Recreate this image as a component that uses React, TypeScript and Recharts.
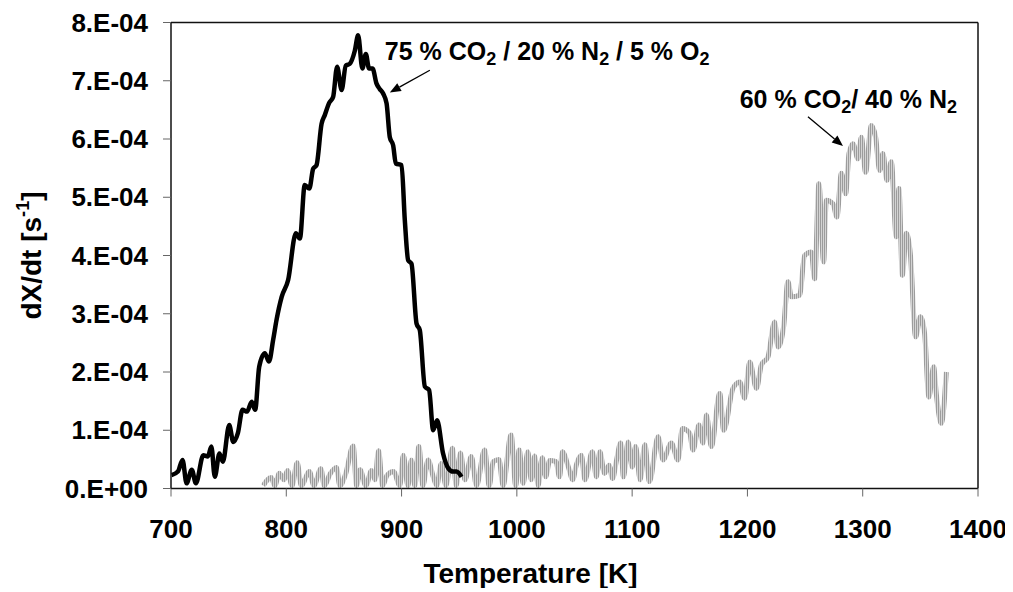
import React from 'react';
import { LineChart, Line, XAxis, YAxis, ReferenceLine, ReferenceDot, Label } from 'recharts';

// Temperature ticks [K]
const xTicks = [700, 800, 900, 1000, 1100, 1200, 1300, 1400];
// dX/dt ticks in units of 1e-4 s^-1
const yTicks = [0, 1, 2, 3, 4, 5, 6, 7, 8];

// 75 % CO2 / 20 % N2 / 5 % O2  (rate in 1e-4 s^-1)
const o2T = [700.5, 706, 710, 713.5, 718, 721.6, 728, 732, 735, 738, 742, 745, 750.5, 754, 758, 762, 766, 770, 773, 776.5, 781.4, 785, 788.6, 791.5, 796, 801.6, 808.3, 811.8, 816, 820, 823.3, 826.2, 830.6, 833.4, 837.2, 840.6, 844.1, 848, 851.6, 855, 859.5, 862.3, 866, 869, 871.8, 874.8, 878.3, 881, 884, 887, 889.8, 892.7, 895, 900, 902.8, 905.7, 908.6, 913, 915.8, 920.2, 923.9, 927.4, 930.8, 936, 940.4, 944.7, 947.6, 952];
const o2Rate = [0.23, 0.29, 0.49, 0.09, 0.32, 0.09, 0.57, 0.55, 0.72, 0.2, 0.6, 0.46, 1.09, 0.8, 0.95, 1.35, 1.32, 1.49, 1.35, 2.09, 2.32, 2.18, 2.55, 2.89, 3.29, 3.58, 4.38, 4.29, 5.21, 5.15, 5.49, 5.55, 6.26, 6.41, 6.62, 6.72, 7.24, 6.84, 7.26, 7.29, 7.52, 7.78, 7.21, 7.46, 7.21, 7.21, 6.95, 6.86, 6.78, 6.61, 6.03, 5.89, 5.58, 5.55, 4.61, 3.92, 3.86, 2.83, 2.72, 1.75, 1.69, 1.0, 1.17, 0.6, 0.35, 0.29, 0.29, 0.2];

// 60 % CO2 / 40 % N2  (rate in 1e-4 s^-1)
const n2T = [780, 787, 790, 794, 798, 801, 805, 809.5, 813, 820, 824, 830, 833, 838, 843.5, 846.5, 851.5, 858, 861, 864, 869, 874, 877, 880, 883.5, 887.5, 893, 898.5, 901.5, 905.5, 908.5, 911.5, 915, 918.5, 923, 927.5, 930.5, 934.5, 938.5, 944, 947.5, 951, 955, 960.5, 965, 972, 976, 979.5, 984.5, 988, 995, 999, 1002, 1005.5, 1009.5, 1012.5, 1015.5, 1018.5, 1022, 1025, 1028.5, 1034, 1037, 1039.5, 1045, 1048.5, 1051.5, 1056, 1059, 1065.5, 1069, 1072, 1076, 1080, 1083, 1086.5, 1090, 1092.5, 1096.5, 1100, 1103, 1107, 1111, 1115, 1122.5, 1126.8, 1134, 1139.8, 1143.6, 1149.9, 1152.8, 1158, 1161.5, 1164.4, 1168.7, 1176, 1179.4, 1187.5, 1193.3, 1197.6, 1202, 1207.8, 1212.1, 1217.8, 1223.6, 1226.5, 1231.4, 1235.2, 1238.1, 1245.3, 1249.6, 1255.4, 1258.3, 1262, 1266.1, 1268.4, 1274.2, 1277.6, 1281.5, 1285.2, 1288.1, 1291.5, 1295.9, 1298.8, 1302.5, 1307.5, 1311.2, 1314.7, 1317.5, 1321, 1324.8, 1329.1, 1331.4, 1334.4, 1337.8, 1341.3, 1345.9, 1350, 1353.7, 1357.4, 1361.5, 1363.8, 1368.2, 1372.5];
const n2Rate = [0.05, 0.19, 0.05, 0.26, 0.15, 0.31, 0.05, 0.44, 0.05, 0.29, 0.05, 0.34, 0.05, 0.25, 0.36, 0.05, 0.25, 0.73, 0.05, 0.32, 0.05, 0.31, 0.15, 0.65, 0.05, 0.23, 0.29, 0.05, 0.57, 0.05, 0.49, 0.05, 0.72, 0.05, 0.49, 0.2, 0.05, 0.43, 0.05, 0.69, 0.05, 0.61, 0.15, 0.55, 0.05, 0.66, 0.05, 0.46, 0.5, 0.05, 0.92, 0.05, 0.66, 0.09, 0.63, 0.15, 0.56, 0.05, 0.53, 0.2, 0.48, 0.46, 0.2, 0.63, 0.35, 0.15, 0.4, 0.57, 0.15, 0.63, 0.2, 0.63, 0.26, 0.4, 0.17, 0.49, 0.78, 0.2, 0.8, 0.37, 0.72, 0.15, 0.75, 0.12, 0.89, 0.49, 0.78, 0.49, 1.03, 0.95, 0.66, 1.09, 0.78, 1.26, 0.72, 1.63, 1.0, 1.72, 1.83, 1.55, 2.17, 1.72, 2.12, 2.26, 2.86, 2.43, 2.78, 3.55, 3.29, 3.32, 4.0, 4.06, 3.6, 5.23, 3.89, 4.95, 4.89, 4.66, 5.41, 5.06, 5.75, 5.92, 5.66, 6.03, 5.43, 6.23, 6.03, 5.46, 5.75, 5.29, 5.61, 4.32, 5.15, 3.66, 4.38, 4.03, 2.6, 2.95, 2.66, 1.57, 2.09, 1.63, 1.12, 2.0];

const o2Data = o2T.map((t, i) => ({ T: t, rate: o2Rate[i] }));
const n2Data = n2T.map((t, i) => ({ T: t, rate: n2Rate[i] }));

const FONT = '"Liberation Sans", Arial, Helvetica, sans-serif';
const TICK_FS = 26;
const TITLE_FS = 28;
const ANN_FS = 25;

const fmtY = (v: number) => (v === 0 ? '0.E+00' : `${v}.E-04`);

const Arrow = (p: any) => {
  const { x1, y1, x2, y2 } = p;
  const a = Math.atan2(y2 - y1, x2 - x1);
  const L = 11;
  const W = 4.5;
  const bx = x2 - L * Math.cos(a);
  const by = y2 - L * Math.sin(a);
  const px = -Math.sin(a) * W;
  const py = Math.cos(a) * W;
  return (
    <g>
      <line x1={x1} y1={y1} x2={bx} y2={by} stroke="#000" strokeWidth={1.3} />
      <polygon points={`${x2},${y2} ${bx + px},${by + py} ${bx - px},${by - py}`} fill="#000" />
    </g>
  );
};

const SUB = ANN_FS * 0.72;

const Ann1 = (p: any) => (
  <text x={p.cx} y={p.cy} fontFamily={FONT} fontWeight="bold" fontSize={ANN_FS} fill="#000">
    75 % CO<tspan fontSize={SUB} dy={5}>2</tspan>
    <tspan dy={-5}> / 20 % N</tspan>
    <tspan fontSize={SUB} dy={5}>2</tspan>
    <tspan dy={-5}> / 5 % O</tspan>
    <tspan fontSize={SUB} dy={5}>2</tspan>
  </text>
);

const Ann2 = (p: any) => (
  <text x={p.cx} y={p.cy} fontFamily={FONT} fontWeight="bold" fontSize={ANN_FS} fill="#000">
    60 % CO<tspan fontSize={SUB} dy={5}>2</tspan>
    <tspan dy={-5}>/ 40 % N</tspan>
    <tspan fontSize={SUB} dy={5}>2</tspan>
  </text>
);

const YTitle = (props: any) => {
  const vb = props.viewBox || { x: 0, y: 0, width: 0, height: 0 };
  const cx = vb.x + 33;
  const cy = vb.y + vb.height / 2;
  return (
    <text
      x={cx}
      y={cy}
      transform={`rotate(-90 ${cx} ${cy})`}
      textAnchor="middle"
      fontFamily={FONT}
      fontWeight="bold"
      fontSize={TITLE_FS}
      fill="#000"
    >
      dX/dt [s<tspan fontSize={TITLE_FS * 0.65} dy={-12}>-1</tspan>
      <tspan dy={12}>]</tspan>
    </text>
  );
};

const XTitle = (props: any) => {
  const vb = props.viewBox || { x: 0, y: 0, width: 0, height: 0 };
  const cx = vb.x + vb.width / 2 - 44;
  const cy = vb.y + 94;
  return (
    <text x={cx} y={cy} textAnchor="middle" fontFamily={FONT} fontWeight="bold" fontSize={TITLE_FS} fill="#000">
      Temperature [K]
    </text>
  );
};

const tickStyle = { fontFamily: FONT, fontWeight: 'bold' as const, fontSize: TICK_FS, fill: '#000' };

export default function App() {
  return (
    <div style={{ width: 1000, height: 580 }}>
      <LineChart width={1000} height={580} margin={{ top: 14.5, right: 30, bottom: 39.5, left: 0 }}>
        <defs>
          <pattern id="hatch" patternUnits="userSpaceOnUse" width={2} height={4}>
            <rect x={0} y={0} width={1} height={4} fill="#9c9c9c" />
            <rect x={1} y={0} width={1} height={4} fill="#d4d4d4" />
          </pattern>
        </defs>
        <XAxis
          dataKey="T"
          type="number"
          domain={[700, 1400]}
          ticks={xTicks}
          allowDuplicatedCategory={false}
          height={60}
          tick={tickStyle}
          tickSize={8}
          tickMargin={23}
          axisLine={{ stroke: '#111', strokeWidth: 1.5 }}
          tickLine={{ stroke: '#666' }}
          label={<Label content={XTitle} />}
        />
        <YAxis
          type="number"
          domain={[0, 8]}
          ticks={yTicks}
          width={163}
          tick={tickStyle}
          tickSize={8}
          tickMargin={15}
          tickFormatter={fmtY}
          axisLine={{ stroke: '#111', strokeWidth: 1.5 }}
          tickLine={{ stroke: '#666' }}
          label={<Label content={YTitle} />}
        />
        <ReferenceLine y={8} stroke="#111" strokeWidth={1.5} />
        <ReferenceLine x={1400} stroke="#111" strokeWidth={1.5} />
        <Line
          data={n2Data}
          dataKey="rate"
          type="monotone"
          stroke="url(#hatch)"
          strokeWidth={5}
          dot={false}
          isAnimationActive={false}
        />
        <Line
          data={o2Data}
          dataKey="rate"
          type="monotone"
          stroke="#000"
          strokeWidth={4.5}
          dot={false}
          isAnimationActive={false}
        />
        <ReferenceLine segment={[{ x: 924.5, y: 7.18 }, { x: 889.8, y: 6.8 }]} shape={Arrow} />
        <ReferenceLine segment={[{ x: 1252.5, y: 6.38 }, { x: 1282.9, y: 5.88 }]} shape={Arrow} />
        <ReferenceDot x={885.5} y={7.35} r={0} shape={Ann1} />
        <ReferenceDot x={1193.3} y={6.54} r={0} shape={Ann2} />
      </LineChart>
    </div>
  );
}
